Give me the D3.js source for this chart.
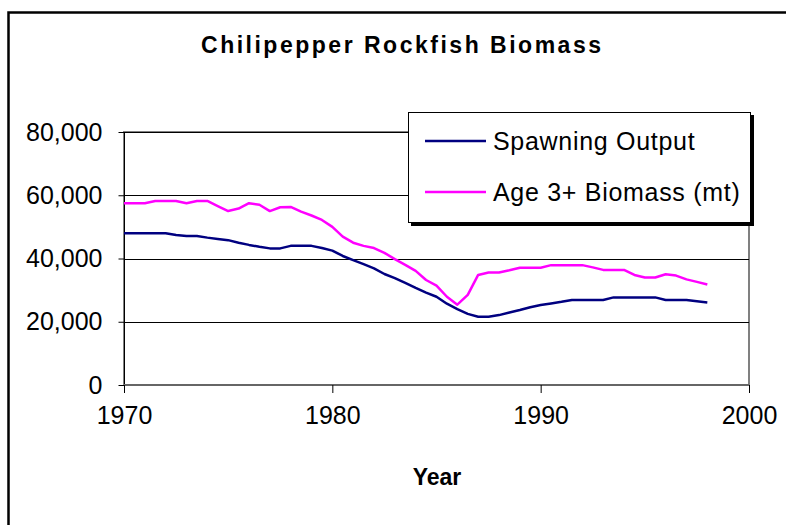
<!DOCTYPE html>
<meta charset="utf-8">
<style>
body { margin: 0; background: #fff; }
svg { font-family: "Liberation Sans", Arial, sans-serif; }
.tick text { font-size: 25px; fill: #000; }
.grid line { stroke: #000; stroke-width: 1; }
.series { fill: none; stroke-width: 2.5; stroke-linejoin: round; }
</style>
<svg width="786" height="525"></svg>
<script src="https://cdn.jsdelivr.net/npm/d3@7"></script>
<script>

// half-year steps, 1970 - 1998
var years = d3.range(1970, 1998.01, 0.5);

var spawning = [48000, 48000, 48000, 48000, 48000, 47400, 47100, 47100, 46600, 46200,
  45800, 45000, 44300, 43700, 43200, 43200, 44000, 44000, 44000, 43300,
  42500, 40800, 39500, 38200, 36900, 35100, 33800, 32300, 30700, 29200,
  27900, 25700, 24000, 22500, 21600, 21600, 22100, 22900, 23700, 24600,
  25300, 25800, 26300, 26900, 26900, 26900, 26900, 27700, 27700, 27700,
  27700, 27700, 26900, 26900, 26900, 26500, 26100];

var age3 = [57500, 57500, 57500, 58200, 58200, 58200, 57500, 58200, 58200, 56600,
  55000, 55800, 57500, 57000, 55000, 56200, 56300, 54800, 53600, 52200,
  50000, 46900, 45000, 44000, 43300, 41800, 39800, 38000, 36100, 33200,
  31400, 27900, 25400, 28500, 34800, 35600, 35600, 36300, 37100, 37100,
  37100, 37900, 37900, 37900, 37900, 37200, 36400, 36400, 36400, 34800,
  34000, 34000, 35000, 34600, 33400, 32600, 31800];

var xTicks = [1970, 1980, 1990, 2000];
var yTicks = [0, 20000, 40000, 60000, 80000];

var seriesNames = ["Spawning Output", "Age 3+ Biomass (mt)"];
var seriesColors = ["#000080", "#ff00ff"];

var svg = d3.select("svg");

var plotLeft = 124, plotRight = 749, plotTop = 132, plotBottom = 385;

var x = d3.scaleLinear().domain([1970, 2000]).range([plotLeft, plotRight]);
var y = d3.scaleLinear().domain([0, 80000]).range([plotBottom, plotTop]);

// outer chart frame (runs off the right and bottom edges)
svg.append("rect")
    .attr("x", 8.5).attr("y", 12.5)
    .attr("width", 820).attr("height", 560)
    .attr("fill", "#fff")
    .attr("stroke", "#000")
    .attr("stroke-width", 2.5);

svg.append("text")
    .attr("x", 401).attr("y", 53)
    .attr("text-anchor", "middle")
    .attr("font-weight", "bold")
    .attr("font-size", 23)
    .attr("textLength", 400)
    .attr("lengthAdjust", "spacing")
    .text("Chilipepper Rockfish Biomass");

// plot area border
svg.append("rect")
    .attr("x", plotLeft).attr("y", plotTop)
    .attr("width", plotRight - plotLeft).attr("height", plotBottom - plotTop)
    .attr("fill", "none")
    .attr("stroke", "#808080")
    .attr("stroke-width", 2);

svg.append("g")
    .attr("class", "grid")
  .selectAll("line")
    .data(yTicks.filter(function(d) { return d > 0; }))
  .enter().append("line")
    .attr("x1", plotLeft).attr("x2", plotRight)
    .attr("y1", function(d) { return Math.round(y(d)) + 0.5; })
    .attr("y2", function(d) { return Math.round(y(d)) + 0.5; });

var yAxis = svg.append("g")
    .attr("transform", "translate(" + (plotLeft + 0.5) + ",0)")
    .call(d3.axisLeft(y).tickValues(yTicks).tickSize(6).tickPadding(16)
      .tickFormat(d3.format(",")));
yAxis.select(".domain").attr("stroke", "#000")
    .attr("d", "M0," + plotTop + "V" + plotBottom);

var xAxis = svg.append("g")
    .attr("transform", "translate(0," + plotBottom + ")")
    .call(d3.axisBottom(x).tickValues(xTicks).tickSize(8).tickPadding(10)
      .tickFormat(d3.format("d")));
xAxis.select(".domain").attr("stroke", "#666").attr("stroke-width", 2)
    .attr("d", "M" + plotLeft + ",0H" + plotRight);
xAxis.selectAll(".tick text").attr("dy", "0.85em");

var line = d3.line()
    .x(function(d, i) { return x(years[i]); })
    .y(function(d) { return y(d); });

svg.selectAll(".series")
    .data([spawning, age3])
  .enter().append("path")
    .attr("class", "series")
    .attr("stroke", function(d, i) { return seriesColors[i]; })
    .attr("d", line);

svg.append("text")
    .attr("x", 437).attr("y", 485)
    .attr("text-anchor", "middle")
    .attr("font-weight", "bold")
    .attr("font-size", 23)
    .text("Year");

// legend
var legend = svg.append("g");
legend.append("rect")
    .attr("x", 411).attr("y", 115)
    .attr("width", 343).attr("height", 111)
    .attr("fill", "#000");
legend.append("rect")
    .attr("x", 408.5).attr("y", 112.5)
    .attr("width", 342).attr("height", 110)
    .attr("fill", "#fff")
    .attr("stroke", "#000");

var rows = legend.selectAll(".row")
    .data(seriesNames)
  .enter().append("g")
    .attr("transform", function(d, i) { return "translate(0," + (141 + i * 51) + ")"; });

rows.append("line")
    .attr("x1", 425).attr("x2", 486)
    .attr("stroke", function(d, i) { return seriesColors[i]; })
    .attr("stroke-width", 2.5);

rows.append("text")
    .attr("x", 493)
    .attr("dy", "0.35em")
    .attr("font-size", 25)
    .attr("letter-spacing", 0.7)
    .text(function(d) { return d; });

</script>
